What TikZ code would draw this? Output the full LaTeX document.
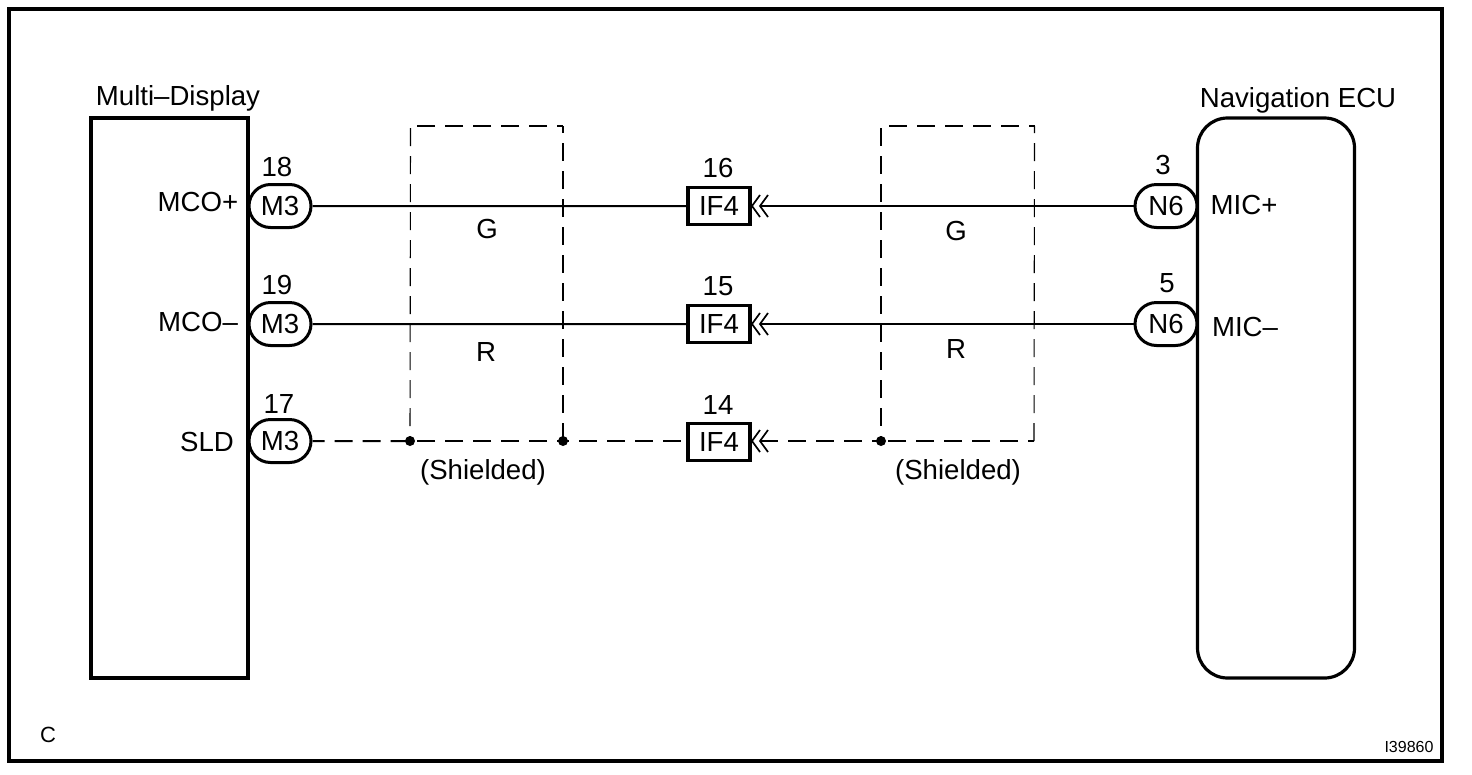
\documentclass[tikz,border=0pt]{standalone}
\usepackage{fontspec}
\setmainfont{Liberation Sans}
\usetikzlibrary{shapes.misc}
\definecolor{ink}{HTML}{000000}
\tikzset{
  x=1pt,y=-1pt,
  lbl/.style={inner sep=0pt,font=\fontsize{27.6}{28}\selectfont,text=ink},
  pin/.style={draw=ink,line width=3pt,rounded rectangle,minimum width=62pt,minimum height=43pt,inner sep=0pt,font=\fontsize{27.6}{28}\selectfont,fill=white},
  conn/.style={draw=ink,line width=3.2pt,minimum width=62pt,minimum height=37pt,inner sep=0pt,font=\fontsize{27.6}{28}\selectfont,fill=white},
  wire/.style={draw=ink,line width=2pt},
  dwire/.style={draw=ink,line width=2pt,dash pattern=on 18pt off 10pt},
  shieldthin/.style={draw=ink,line width=1.1pt,dash pattern=on 18pt off 10pt},
  shieldthick/.style={draw=ink,line width=2.2pt,dash pattern=on 18pt off 10pt},
  ecu/.style={draw=ink,line width=3.2pt},
  dot/.style={circle,fill=ink,inner sep=0pt,minimum size=10pt},
  chev/.style={draw=ink,line width=1.7pt},
  pics/chevrons/.style={code={
    \foreach \d in {0,8}{\draw[chev] (\d+8,-11) -- (\d,0) -- (\d+8,11);}
  }}
}
\begin{document}
\begin{tikzpicture}
\useasboundingbox (0,0) rectangle (1472,774);
\fill[white] (0,0) rectangle (1472,774);
\node[draw=ink,line width=3.4pt,minimum width=1433pt,minimum height=752pt,inner sep=0pt] (frame) at (725.5,385) {};

\node[ecu,minimum width=157pt,minimum height=560pt,inner sep=0pt] (md) at (169.5,398) {};
\node[ecu,rounded corners=30pt,minimum width=157pt,minimum height=560pt,inner sep=0pt] (nav) at (1276,398) {};
\node[lbl] (mdt) at (178,98) {Multi–Display};
\node[lbl] (navt) at (1298,100) {Navigation ECU};

% pins left
\node[pin] (a1) at (280,206) {M3};
\node[pin] (a2) at (280,324) {M3};
\node[pin] (a3) at (280,441) {M3};
\node[lbl] at (277,167) {18};
\node[lbl] at (277,285) {19};
\node[lbl] at (279,404) {17};
\node[lbl] at (198,202) {MCO+};
\node[lbl] at (198,322) {MCO–};
\node[lbl] at (207,442) {SLD};

% connectors middle
\node[conn] (c1) at (719,206) {IF4};
\node[conn] (c2) at (719,324) {IF4};
\node[conn] (c3) at (719,442) {IF4};
\node[lbl] at (718,168) {16};
\node[lbl] at (718,286) {15};
\node[lbl] at (718,405) {14};

% pins right
\node[pin] (b1) at (1166,206) {N6};
\node[pin] (b2) at (1166,324) {N6};
\node[lbl] at (1163,165) {3};
\node[lbl] at (1167,283) {5};
\node[lbl] at (1244,205) {MIC+};
\node[lbl] at (1245,327) {MIC–};

% wires
\draw[wire] (a1) -- (c1);
\draw[wire] (a2) -- (c2);
\coordinate (k1) at (760,206);
\coordinate (k2) at (760,324);
\coordinate (k3) at (760,441);
\draw[wire] (k1) -- (b1);
\draw[wire] (k2) -- (b2);

% shields
\node[dot] (s1) at (410,441) {};
\node[dot] (s2) at (563,441) {};
\node[dot] (s3) at (881,441) {};
\coordinate (s4) at (1034,441);
\coordinate (t1) at (410.5,126);
\coordinate (t2) at (563,126);
\coordinate (t3) at (881,126);
\coordinate (t4) at (1034.5,126);
\coordinate (t1b) at (410.5,128);
\coordinate (t3b) at (881,128);
\draw[shieldthin] (t1b) -- (s1.center);
\draw[shieldthick,dash phase=12pt] (t2) -- (t1);
\draw[shieldthick,dash phase=11pt] (t2) -- (s2.center);
\draw[shieldthick] (t3b) -- (s3.center);
\draw[shieldthick,dash phase=12pt] (t4) -- (t3);
\draw[shieldthin,dash phase=11pt] (t4) -- (s4);
\draw[dwire,dash phase=6pt] (a3) -- (s1.center);
\draw[dwire,dash phase=12pt] (s2.center) -- (s1.center);
\draw[dwire,dash phase=12pt] (s2.center) -- (s2 -| c3.west);
\draw[dwire] (k3) -- (s3.center);
\draw[dwire,dash phase=12pt] (s4) -- (s3.center);

\pic at (752,206) {chevrons};
\pic at (752,324) {chevrons};
\pic at (752,441) {chevrons};

\node[lbl] at (487,229) {G};
\node[lbl] at (486,352) {R};
\node[lbl] at (956,231) {G};
\node[lbl] at (956,349) {R};
\node[lbl] at (483,472) {(Shielded)};
\node[lbl] at (958,472) {(Shielded)};
\node[lbl,font=\fontsize{22}{22}\selectfont] at (48,735) {C};
\node[lbl,font=\fontsize{16}{16}\selectfont] at (1409,747) {I39860};
\end{tikzpicture}
\end{document}
